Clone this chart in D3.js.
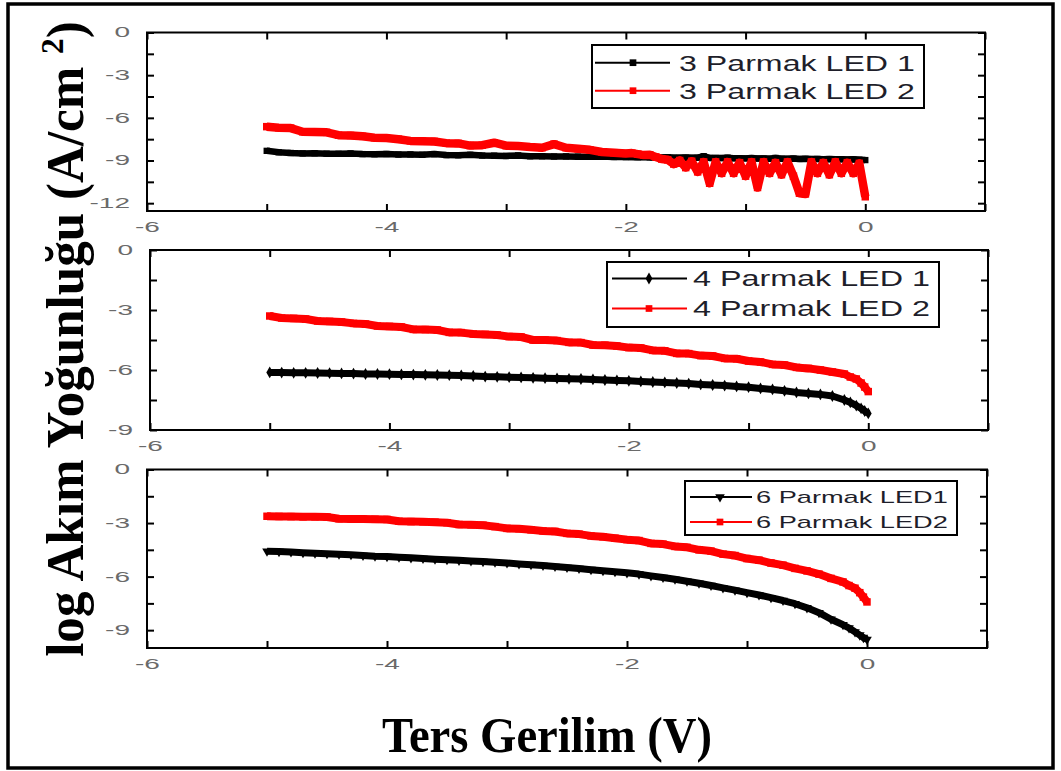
<!DOCTYPE html>
<html>
<head>
<meta charset="utf-8">
<script src="https://cdn.jsdelivr.net/npm/d3@7"></script>
<style>
  body { margin: 0; background: #fff; }
  svg { display: block; }
</style>
</head>
<body>
<svg id="chart" width="1061" height="771"></svg>
<script>
// Reverse-bias sweep, 3-finger devices (finer steps near 0 V)
const voltsTop = [-5.0,-4.9,-4.8,-4.7,-4.6,-4.5,-4.4,-4.3,-4.2,-4.1,-4.0,-3.9,-3.8,-3.7,-3.6,-3.5,-3.4,-3.3,-3.2,-3.1,-3.0,-2.9,-2.8,-2.7,-2.6,-2.5,-2.4,-2.3,-2.2,-2.1,-2.0,
  -1.95,-1.9,-1.85,-1.8,-1.75,-1.7,-1.65,-1.6,-1.55,-1.5,-1.45,-1.4,-1.35,-1.3,-1.25,-1.2,-1.15,-1.1,-1.05,-1.0,-0.95,-0.9,-0.85,-0.8,-0.75,-0.7,-0.65,-0.6,-0.55,-0.5,-0.45,-0.4,-0.35,-0.3,-0.25,-0.2,-0.15,-0.1,-0.05,0];
const led3_1 = [-8.32,-8.42,-8.47,-8.5,-8.49,-8.52,-8.53,-8.5,-8.55,-8.56,-8.54,-8.58,-8.57,-8.6,-8.55,-8.62,-8.63,-8.6,-8.65,-8.66,-8.68,-8.64,-8.7,-8.7,-8.72,-8.71,-8.73,-8.74,-8.72,-8.75,-8.76,
  -8.76,-8.77,-8.75,-8.78,-8.78,-8.79,-8.77,-8.8,-8.8,-8.79,-8.81,-8.8,-8.7,-8.82,-8.82,-8.83,-8.8,-8.84,-8.84,-8.85,-8.83,-8.86,-8.85,-8.87,-8.82,-8.87,-8.88,-8.86,-8.89,-8.88,-8.9,-8.89,-8.91,-8.9,-8.92,-8.91,-8.93,-8.92,-8.94,-8.97];
const led3_2 = [-6.62,-6.7,-6.72,-6.98,-7.0,-7.02,-7.22,-7.24,-7.3,-7.4,-7.42,-7.5,-7.62,-7.64,-7.66,-7.78,-7.8,-7.95,-7.92,-7.75,-7.96,-7.98,-8.05,-8.1,-7.85,-8.1,-8.17,-8.25,-8.4,-8.45,-8.5,
  -8.48,-8.55,-8.62,-8.6,-8.75,-8.9,-8.95,-9.25,-9.0,-9.5,-9.05,-9.8,-9.1,-10.6,-9.1,-9.9,-9.1,-9.9,-9.15,-10.1,-9.1,-10.9,-9.1,-9.9,-9.15,-10.0,-9.1,-10.1,-11.3,-11.35,-9.1,-9.9,-9.15,-10.0,-9.1,-9.9,-9.15,-9.9,-9.2,-11.55];

// Reverse-bias sweep, 4- and 6-finger devices
const voltsFine = [-5.0,-4.9,-4.8,-4.7,-4.6,-4.5,-4.4,-4.3,-4.2,-4.1,-4.0,-3.9,-3.8,-3.7,-3.6,-3.5,-3.4,-3.3,-3.2,-3.1,-3.0,-2.9,-2.8,-2.7,-2.6,-2.5,-2.4,-2.3,-2.2,-2.1,-2.0,-1.9,-1.8,-1.7,-1.6,-1.5,-1.4,-1.3,-1.2,-1.1,-1.0,-0.9,-0.8,-0.7,-0.6,-0.5,
  -0.4,-0.3,-0.2,-0.15,-0.1,-0.06,-0.03,0];
const led4_1 = [-6.12,-6.13,-6.14,-6.14,-6.15,-6.16,-6.17,-6.18,-6.2,-6.2,-6.21,-6.22,-6.23,-6.24,-6.25,-6.26,-6.27,-6.3,-6.33,-6.34,-6.36,-6.37,-6.39,-6.41,-6.42,-6.44,-6.45,-6.47,-6.5,-6.52,-6.54,-6.57,-6.6,-6.62,-6.65,-6.68,-6.72,-6.75,-6.78,-6.82,-6.86,-6.92,-6.97,-7.04,-7.12,-7.17,
  -7.22,-7.3,-7.5,-7.62,-7.78,-7.92,-8.05,-8.17];
const led4_2 = [-3.3,-3.4,-3.42,-3.45,-3.55,-3.57,-3.6,-3.67,-3.7,-3.8,-3.82,-3.85,-3.97,-3.98,-4.0,-4.12,-4.13,-4.2,-4.22,-4.25,-4.33,-4.35,-4.5,-4.5,-4.53,-4.62,-4.63,-4.75,-4.76,-4.8,-4.88,-4.9,-5.02,-5.04,-5.17,-5.18,-5.28,-5.3,-5.42,-5.44,-5.55,-5.6,-5.72,-5.75,-5.87,-5.92,
  -6.0,-6.1,-6.2,-6.35,-6.45,-6.65,-6.85,-7.08];
const led6_1 = [-4.58,-4.6,-4.62,-4.66,-4.69,-4.72,-4.75,-4.78,-4.82,-4.86,-4.88,-4.92,-4.95,-4.99,-5.03,-5.06,-5.09,-5.12,-5.16,-5.2,-5.24,-5.29,-5.33,-5.38,-5.43,-5.49,-5.55,-5.61,-5.67,-5.73,-5.79,-5.86,-5.96,-6.05,-6.15,-6.26,-6.37,-6.5,-6.63,-6.76,-6.9,-7.03,-7.18,-7.34,-7.52,-7.75,
  -8.02,-8.39,-8.7,-8.88,-9.1,-9.28,-9.42,-9.52];
const led6_2 = [-2.62,-2.63,-2.64,-2.65,-2.65,-2.66,-2.76,-2.77,-2.78,-2.79,-2.8,-2.9,-2.92,-2.93,-2.95,-2.98,-3.08,-3.1,-3.12,-3.2,-3.3,-3.32,-3.38,-3.44,-3.47,-3.58,-3.62,-3.72,-3.77,-3.85,-3.93,-3.98,-4.14,-4.18,-4.31,-4.36,-4.5,-4.57,-4.74,-4.82,-4.99,-5.08,-5.24,-5.36,-5.54,-5.68,
  -5.86,-6.1,-6.3,-6.5,-6.65,-6.9,-7.15,-7.42];

// Axis ticks and labels
const xTicks = [-6,-5,-4,-3,-2,-1,0,1];
const xLabelled = [-6,-4,-2,0];
const yTicksTop = [0,-1.5,-3,-4.5,-6,-7.5,-9,-10.5,-12];
const yTicksMid = [0,-1.5,-3,-4.5,-6,-7.5,-9];
const yTicksLow = [0,-1.5,-3,-4.5,-6,-7.5,-9];
const legendTop = ["3 Parmak LED 1", "3 Parmak LED 2"];
const legendMid = ["4 Parmak LED 1", "4 Parmak LED 2"];
const legendLow = ["6 Parmak LED1", "6 Parmak LED2"];

const W = 1061, H = 771;
const svg = d3.select("#chart");
svg.append("rect").attr("width", W).attr("height", H).attr("fill", "#fff");
svg.append("rect").attr("x", 8).attr("y", 4).attr("width", 1045).attr("height", 764)
  .attr("fill", "none").attr("stroke", "#000").attr("stroke-width", 3.5);

const panels = [
  { left: 147, right: 985, top: 32.5, bottom: 211, yMin: -12.55, yTicks: yTicksTop,
    volts: voltsTop, s1: led3_1, s2: led3_2, names: legendTop, shape1: "square", w1: 6.5, w2: 8.5,
    legend: { x0: 592, y0: 45, x1: 924, y1: 108, rows: [62.7, 90.7], lx0: 595, lx1: 670, mx: 633, tx: 679, tw: 236, fs: 22 } },
  { left: 150, right: 988, top: 250, bottom: 430, yMin: -9, yTicks: yTicksMid,
    volts: voltsFine, s1: led4_1, s2: led4_2, names: legendMid, shape1: "diamond", w1: 7, w2: 8,
    legend: { x0: 607, y0: 262, x1: 939, y1: 327, rows: [278.5, 308.5], lx0: 612, lx1: 687, mx: 649, tx: 693, tw: 237, fs: 22 } },
  { left: 147, right: 987, top: 469.5, bottom: 648, yMin: -10, yTicks: yTicksLow,
    volts: voltsFine, s1: led6_1, s2: led6_2, names: legendLow, shape1: "triangle", w1: 7, w2: 8,
    legend: { x0: 685, y0: 481, x1: 957, y1: 535, rows: [497, 522], lx0: 690, lx1: 752, mx: 720, tx: 756, tw: 192, fs: 16 } }
];

const tickFont = "'Liberation Sans', Arial, sans-serif";
const tickStretch = 2.0;

// Tick labels are drawn wide: widen each one with textLength
function styleTicks(g) {
  g.selectAll(".tick text")
    .attr("fill", "#6a6a6a")
    .style("font-family", tickFont)
    .style("font-size", "14px")
    .each(function () {
      if (!this.textContent) return;
      const w = this.getComputedTextLength();
      this.setAttribute("textLength", (w * tickStretch).toFixed(2));
      this.setAttribute("lengthAdjust", "spacingAndGlyphs");
    });
  g.selectAll(".tick line").attr("stroke", "#000").attr("stroke-width", 2);
  g.select(".domain").remove();
}

function marker(shape, size) {
  const t = shape === "diamond" ? d3.symbolDiamond : shape === "triangle" ? d3.symbolTriangle : d3.symbolSquare;
  return d3.symbol().type(t).size(size)();
}

panels.forEach(p => {
  const x = d3.scaleLinear().domain([-6, 1]).range([p.left, p.right]);
  const y = d3.scaleLinear().domain([p.yMin, 0]).range([p.bottom, p.top]);
  const g = svg.append("g");

  const yFmt = d => (Math.abs(d % 3) < 1e-9 ? String(d) : "");
  const xFmt = d => (xLabelled.includes(d) ? String(d) : "");

  g.append("g").attr("transform", `translate(${p.left},0)`)
    .call(d3.axisLeft(y).tickValues(p.yTicks).tickFormat(yFmt).tickSize(-7).tickSizeOuter(0).tickPadding(17))
    .call(styleTicks);
  g.append("g").attr("transform", `translate(${p.right},0)`)
    .call(d3.axisRight(y).tickValues(p.yTicks).tickFormat("").tickSize(-7).tickSizeOuter(0))
    .call(styleTicks);
  g.append("g").attr("transform", `translate(0,${p.bottom})`)
    .call(d3.axisBottom(x).tickValues(xTicks).tickFormat(xFmt).tickSize(-7).tickSizeOuter(0).tickPadding(11))
    .call(styleTicks);
  g.append("g").attr("transform", `translate(0,${p.top})`)
    .call(d3.axisTop(x).tickValues(xTicks).tickFormat("").tickSize(-7).tickSizeOuter(0))
    .call(styleTicks);

  g.append("rect").attr("x", p.left).attr("y", p.top)
    .attr("width", p.right - p.left).attr("height", p.bottom - p.top)
    .attr("fill", "none").attr("stroke", "#000").attr("stroke-width", 2);

  const line = d3.line().x((d, i) => x(p.volts[i])).y(d => y(d));
  const series = [
    { vals: p.s1, color: "#000", width: p.w1, shape: p.shape1, size: 40 },
    { vals: p.s2, color: "#ff0000", width: p.w2, shape: "square", size: 56 }
  ];
  series.forEach(s => {
    g.append("path").datum(s.vals).attr("d", line)
      .attr("fill", "none").attr("stroke", s.color).attr("stroke-width", s.width)
      .attr("stroke-linejoin", "round");
    g.selectAll(null).data(s.vals).enter().append("path")
      .attr("d", marker(s.shape, s.size))
      .attr("transform", (d, i) => `translate(${x(p.volts[i])},${y(d)})${s.shape === "triangle" ? " rotate(180)" : ""}`)
      .attr("fill", s.color);
  });

  // Legend
  const L = p.legend;
  g.append("rect").attr("x", L.x0).attr("y", L.y0).attr("width", L.x1 - L.x0).attr("height", L.y1 - L.y0)
    .attr("fill", "#fff").attr("stroke", "#000").attr("stroke-width", 2);
  series.forEach((s, i) => {
    const ry = L.rows[i];
    g.append("line").attr("x1", L.lx0).attr("x2", L.lx1).attr("y1", ry).attr("y2", ry)
      .attr("stroke", s.color).attr("stroke-width", 2);
    g.append("path").attr("d", marker(s.shape, s.shape === "square" ? 45 : 40))
      .attr("transform", `translate(${L.mx},${ry})${s.shape === "triangle" ? " rotate(180)" : ""}`)
      .attr("fill", s.color);
    const t = g.append("text").text(p.names[i])
      .style("font-family", tickFont).style("font-size", L.fs + "px")
      .attr("fill", "#1e1e2a");
    const w = t.node().getComputedTextLength();
    t.attr("transform", `translate(${L.tx},${ry + L.fs * 0.36}) scale(${L.tw / w},1)`);
  });
});

// Axis titles
const serif = "'Liberation Serif', 'Times New Roman', serif";
const xt = svg.append("text").text("Ters Gerilim (V)")
  .style("font-family", serif).style("font-weight", "bold").style("font-size", "50px")
  .attr("text-anchor", "middle").attr("fill", "#000");
const xw = xt.node().getComputedTextLength();
xt.attr("transform", `translate(547,751.5) scale(${330 / xw},1)`);

const yt = svg.append("text")
  .style("font-family", serif).style("font-weight", "bold").style("font-size", "52px")
  .attr("text-anchor", "middle").attr("fill", "#000");
yt.append("tspan").text("log Akım Yoğunluğu (A/cm ");
yt.append("tspan").attr("dy", -20).style("font-size", "32px").text("2");
yt.append("tspan").attr("dy", 20).text(")");
const yw = yt.node().getBBox().width;
yt.attr("transform", `translate(83,339) rotate(-90) scale(${636 / yw},1)`);
</script>
</body>
</html>
